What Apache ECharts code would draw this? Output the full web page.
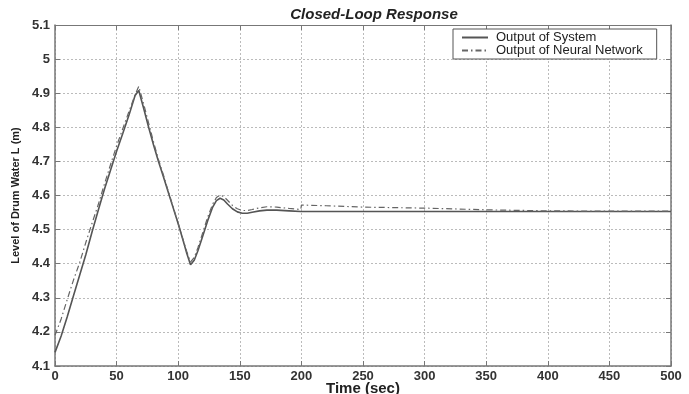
<!DOCTYPE html>
<html>
<head>
<meta charset="utf-8">
<script src="https://cdn.jsdelivr.net/npm/echarts@6/dist/echarts.min.js"></script>
<style>
  html, body { margin: 0; padding: 0; background: #fff; }
  #chart { width: 689px; height: 394px; }
</style>
</head>
<body>
<div id="chart"></div>
<script>
// time samples (sec) shared by both curves
var timeSec = [0, 5, 10, 15, 20, 25, 30, 35, 40, 45, 50, 55, 60, 65, 68,
  72, 76, 80, 84, 88, 92, 96, 100, 104, 107, 110, 113, 116, 120, 124, 128,
  131, 134, 137, 140, 144, 148, 152, 156, 160, 166, 172, 180, 190, 199.5, 200,
  220, 250, 300, 350, 400, 450, 500];

// output of system (solid)
var systemOut = [4.14, 4.188, 4.245, 4.306, 4.366, 4.426, 4.492, 4.555, 4.617, 4.673, 4.730, 4.782, 4.835, 4.893, 4.908,
  4.855, 4.800, 4.748, 4.700, 4.655, 4.609, 4.563, 4.517, 4.468, 4.430, 4.397, 4.410, 4.438, 4.482, 4.527, 4.566,
  4.585, 4.592, 4.587, 4.575, 4.561, 4.552, 4.548, 4.548, 4.551, 4.555, 4.557, 4.557, 4.555, 4.553, 4.553,
  4.553, 4.553, 4.553, 4.553, 4.553, 4.553, 4.553];

// output of neural network (dash-dot)
var networkOut = [4.19, 4.238, 4.296, 4.352, 4.403, 4.462, 4.518, 4.572, 4.632, 4.690, 4.745, 4.796, 4.846, 4.895, 4.920,
  4.868, 4.812, 4.757, 4.705, 4.660, 4.612, 4.565, 4.518, 4.470, 4.435, 4.405, 4.418, 4.447, 4.492, 4.537, 4.575,
  4.594, 4.601, 4.597, 4.586, 4.571, 4.561, 4.556, 4.556, 4.559, 4.564, 4.567, 4.566, 4.562, 4.559, 4.572,
  4.570, 4.566, 4.563, 4.558, 4.555, 4.554, 4.554];

var xTicks = { min: 0, max: 500, step: 50 };
var yTicks = { min: 4.1, max: 5.1, step: 0.1 };

function pairs(vals) {
  return timeSec.map(function (t, i) { return [t, vals[i]]; });
}

var fontFam = 'Liberation Sans, Arial, sans-serif';
var frameColor = '#777';
var gridLine = { show: true, lineStyle: { color: '#bbb', type: [2, 2], width: 1 } };
var labelFont = { color: '#333', fontSize: 13, fontWeight: 'bold', fontFamily: fontFam };

var myChart = echarts.init(document.getElementById('chart'));
myChart.setOption({
  animation: false,
  backgroundColor: '#fff',
  title: {
    text: 'Closed-Loop Response',
    left: 369, top: 2, textAlign: 'center',
    textStyle: { fontSize: 15, fontWeight: 'bold', fontStyle: 'italic', color: '#222', fontFamily: fontFam }
  },
  legend: {
    orient: 'vertical',
    left: 453, top: 29,
    padding: [2, 14, 2, 8],
    itemGap: 0,
    itemWidth: 26, itemHeight: 10,
    borderColor: '#555', borderWidth: 1,
    backgroundColor: '#fff',
    itemStyle: { opacity: 0 },
    textStyle: { fontSize: 13, color: '#222', lineHeight: 12, fontFamily: fontFam, padding: [0, 0, 0, 3] },
    data: ['Output of System', 'Output of Neural Network']
  },
  grid: { left: 55, right: 18, top: 25, bottom: 28, outerBoundsMode: 'none' },
  xAxis: [{
    type: 'value', min: xTicks.min, max: xTicks.max, interval: xTicks.step,
    name: 'Time (sec)', nameLocation: 'middle', nameGap: 15, nameMoveOverlap: false,
    nameTextStyle: { color: '#222', fontSize: 15, fontWeight: 'bold', fontFamily: fontFam },
    axisLine: { onZero: false, lineStyle: { color: frameColor, width: 1.5 } },
    axisTick: { inside: true, length: 5, lineStyle: { color: frameColor } },
    axisLabel: Object.assign({ margin: 4 }, labelFont),
    splitLine: gridLine
  }, {
    type: 'value', position: 'top', min: xTicks.min, max: xTicks.max, interval: xTicks.step,
    axisLine: { onZero: false, lineStyle: { color: frameColor, width: 1 } },
    axisTick: { inside: true, length: 5, lineStyle: { color: frameColor } },
    axisLabel: { show: false },
    splitLine: { show: false }
  }],
  yAxis: [{
    type: 'value', min: yTicks.min, max: yTicks.max, interval: yTicks.step,
    name: 'Level of Drum Water L (m)', nameLocation: 'middle', nameGap: 34, nameRotate: 90, nameMoveOverlap: false,
    nameTextStyle: { color: '#222', fontSize: 11, fontWeight: 'bold', fontFamily: fontFam },
    axisLine: { onZero: false, lineStyle: { color: frameColor, width: 1.5 } },
    axisTick: { inside: true, length: 5, lineStyle: { color: frameColor } },
    axisLabel: Object.assign({ margin: 5, formatter: function (v) { return String(+v.toFixed(1)); } }, labelFont),
    splitLine: gridLine
  }, {
    type: 'value', position: 'right', min: yTicks.min, max: yTicks.max, interval: yTicks.step,
    axisLine: { onZero: false, lineStyle: { color: frameColor, width: 1.5 } },
    axisTick: { inside: true, length: 5, lineStyle: { color: frameColor } },
    axisLabel: { show: false },
    splitLine: { show: false }
  }],
  series: [{
    name: 'Output of System',
    type: 'line',
    symbol: 'none',
    data: pairs(systemOut),
    lineStyle: { color: '#555', width: 1.6 },
    itemStyle: { color: '#555' }
  }, {
    name: 'Output of Neural Network',
    type: 'line',
    symbol: 'none',
    data: pairs(networkOut),
    lineStyle: { color: '#666', width: 1.2, type: [6, 3, 1.5, 3] },
    itemStyle: { color: '#666' }
  }]
});
</script>
</body>
</html>
